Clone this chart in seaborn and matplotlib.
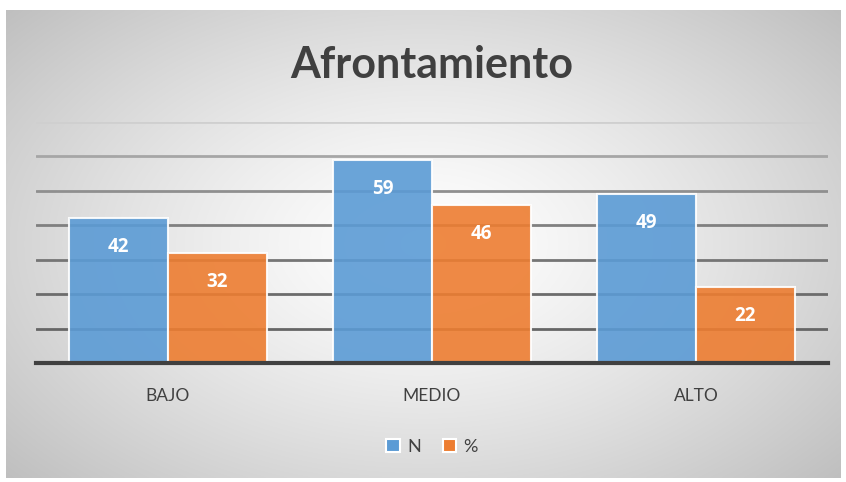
import numpy as np
import pandas as pd
import matplotlib
matplotlib.use("Agg")
import matplotlib.pyplot as plt
import seaborn as sns

categorias = ["BAJO", "MEDIO", "ALTO"]
serie_n = [42, 59, 49]
serie_pct = [32, 46, 22]
series = ["N", "%"]
titulo = "Afrontamiento"

df = pd.DataFrame({
    "cat": categorias * 2,
    "val": serie_n + serie_pct,
    "serie": [series[0]] * 3 + [series[1]] * 3,
})

sns.set_theme(style="white")
plt.rcParams["font.family"] = ["Lato", "DejaVu Sans"]

W, H = 846, 482
fig = plt.figure(figsize=(W / 100, H / 100), dpi=100)
fig.patch.set_facecolor("white")

# background radial gradient panel
bg = fig.add_axes([6 / W, 1 - 478 / H, (840 - 6) / W, (478 - 10) / H], zorder=0)
nx, ny = 420, 240
xx, yy = np.meshgrid(np.linspace(-1, 1, nx), np.linspace(-1, 1, ny))
r = np.sqrt((xx * 1.0) ** 2 + (yy * 0.9) ** 2) / np.sqrt(1 + 0.81)
shade = 1.0 - 0.25 * np.clip(r, 0, 1) ** 1.3
img = np.dstack([shade, shade, shade])
bg.imshow(img, aspect="auto", extent=[0, 1, 0, 1], interpolation="bilinear")
bg.set_axis_off()

ax = fig.add_axes([36 / W, 1 - 363 / H, (828 - 36) / W, (363 - 122) / H], zorder=1)
ax.patch.set_alpha(0)

sns.barplot(data=df, x="cat", y="val", hue="serie", palette=["#5B9BD5", "#ED7D31"],
            saturation=1, width=0.75, edgecolor="white", linewidth=1.5, alpha=0.9,
            ax=ax, legend=True, zorder=3)

ax.set_ylim(0, 70)
ax.set_xlim(-0.5, 2.5)
ax.set_yticks(np.arange(10, 71, 10))
ax.yaxis.grid(True, linewidth=2)
ax.set_axisbelow(True)
cols = ["#666666", "#6c6c6c", "#757575", "#808080", "#8f8f8f", "#a6a6a6", "#cfcfcf"]
for gl, c in zip(ax.get_ygridlines(), cols):
    gl.set_color(c)
ax.tick_params(axis="y", left=False, labelleft=False)
ax.tick_params(axis="x", bottom=False, labelsize=12.5, labelcolor="#404040", pad=12)
ax.set_xlabel("")
ax.set_ylabel("")
for s in ["left", "right", "top"]:
    ax.spines[s].set_visible(False)
ax.spines["bottom"].set_color("#404040")
ax.spines["bottom"].set_linewidth(3)
ax.spines["bottom"].set_zorder(5)

for cont in ax.containers:
    ax.bar_label(cont, padding=-28, color="white",
                 fontproperties={"family": "Open Sans", "weight": "bold", "size": 13.5})

leg = ax.legend(loc="center", bbox_to_anchor=(0.5, 1 - (447 - 122) / (363 - 122)),
                ncol=2, frameon=False, fontsize=13, handlelength=0.75, handleheight=0.75,
                handletextpad=0.4, columnspacing=1.2, labelcolor="#404040")
for h in leg.legend_handles:
    h.set_edgecolor("white")
    h.set_alpha(1)

fig.text(432 / W, 1 - 65 / H, titulo, ha="center", va="center", fontsize=31,
         fontweight="bold", color="#404040")

fig.savefig("out.png", dpi=100)
